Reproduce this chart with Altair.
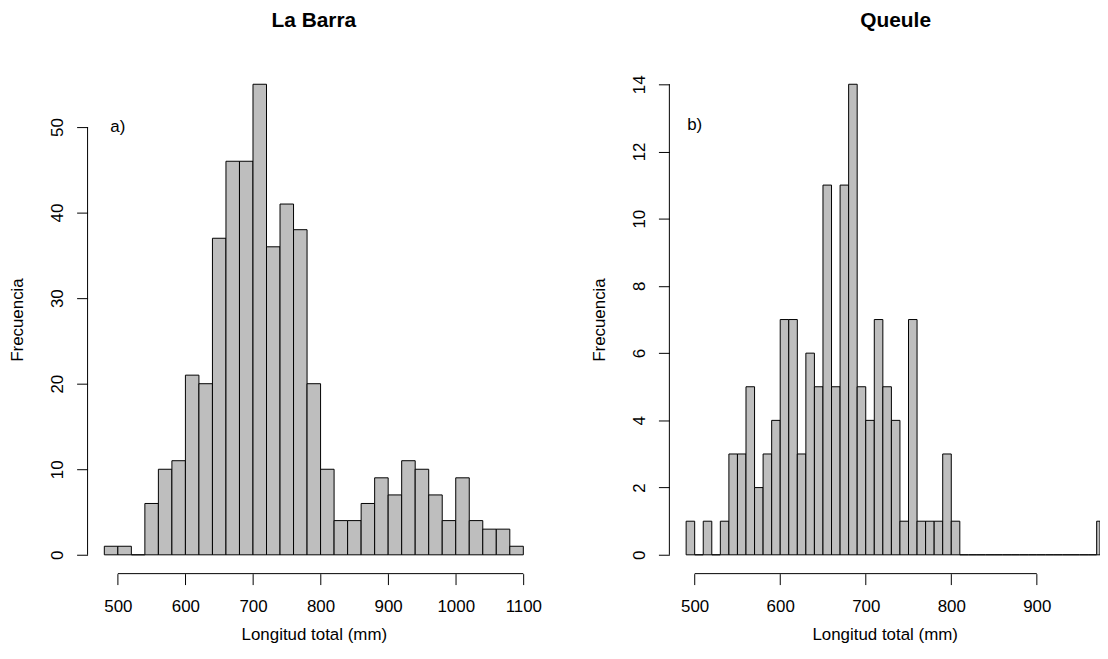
import altair as alt
import pandas as pd

FONT = "Liberation Sans"

# ---- La Barra (a) ----
left_edges = [480, 500, 520, 540, 560, 580, 600, 620, 640, 660, 680, 700, 720, 740,
              760, 780, 800, 820, 840, 860, 880, 900, 920, 940, 960, 980, 1000, 1020,
              1040, 1060, 1080, 1100]
left_counts = [1, 1, 0, 6, 10, 11, 21, 20, 37, 46, 46, 55, 36, 41, 38, 20, 10, 4, 4,
               6, 9, 7, 11, 10, 7, 4, 9, 4, 3, 3, 1]
left_xticks = [500, 600, 700, 800, 900, 1000, 1100]
left_yticks = [0, 10, 20, 30, 40, 50]
left_xdom = [455.2, 1124.8]
left_ydom = [-2.2, 57.2]

# ---- Queule (b) ----
right_edges = [490, 500, 510, 520, 530, 540, 550, 560, 570, 580, 590, 600, 610, 620,
               630, 640, 650, 660, 670, 680, 690, 700, 710, 720, 730, 740, 750, 760,
               770, 780, 790, 800, 810, 820, 830, 840, 850, 860, 870, 880, 890, 900,
               910, 920, 930, 940, 950, 960, 970, 980]
right_counts = [1, 0, 1, 0, 1, 3, 3, 5, 2, 3, 4, 7, 7, 3, 6, 5, 11, 5, 11, 14, 5, 4,
                7, 5, 4, 1, 7, 1, 1, 1, 3, 1, 0, 0, 0, 0, 0, 0, 0, 0, 0, 0, 0, 0, 0,
                0, 0, 0, 1]
right_xticks = [500, 600, 700, 800, 900]
right_yticks = [0, 2, 4, 6, 8, 10, 12, 14]
right_xdom = [470.4, 973.9]
right_ydom = [-0.56, 14.56]

PLOT_H = 511


def panel(edges, counts, xticks, yticks, xdom, ydom, width, title, tag, tag_x, tag_y, title_dx):
    df = pd.DataFrame({"start": edges[:-1], "end": edges[1:], "count": counts})
    xs = alt.Scale(domain=xdom, nice=False, zero=False, padding=0, clamp=True)
    ys = alt.Scale(domain=ydom, nice=False, zero=False, padding=0)
    xaxis = alt.Axis(
        values=xticks, domain=False, grid=False, tickSize=11, format="d",
        labelFontSize=17, labelBaseline="alphabetic", labelPadding=27,
        title="Longitud total (mm)", titleFontSize=17, titleFontWeight="normal",
        titleBaseline="alphabetic", titleY=66)
    yaxis = alt.Axis(
        values=yticks, domain=False, grid=False, tickSize=11,
        labelAngle=270, labelAlign="center", labelBaseline="alphabetic",
        labelPadding=14, labelFontSize=17,
        title="Frecuencia", titleFontSize=17, titleFontWeight="normal",
        titleAngle=270, titleBaseline="alphabetic", titleX=-65)
    bars = alt.Chart(df).mark_bar(
        color="#BEBEBE", stroke="black", strokeWidth=1, clip=True
    ).encode(
        x=alt.X("start:Q", scale=xs, axis=xaxis),
        x2="end:Q",
        y=alt.Y("count:Q", scale=ys, axis=yaxis),
        y2=alt.datum(0),
    )
    xline = alt.Chart(pd.DataFrame({"a": [xticks[0]], "b": [xticks[-1]]})).mark_rule(
        color="black", strokeWidth=1
    ).encode(
        x=alt.X("a:Q", scale=xs, axis=xaxis),
        x2="b:Q",
        y=alt.YDatum(ydom[0], axis=yaxis),
    )
    yline = alt.Chart(pd.DataFrame({"a": [yticks[0]], "b": [yticks[-1]]})).mark_rule(
        color="black", strokeWidth=1
    ).encode(
        y=alt.Y("a:Q", scale=ys, axis=yaxis),
        y2="b:Q",
        x=alt.XDatum(xdom[0], axis=xaxis),
    )
    label = alt.Chart(pd.DataFrame({"x": [tag_x], "y": [tag_y], "t": [tag]})).mark_text(
        font=FONT, fontSize=17, align="center", baseline="middle", color="black"
    ).encode(
        x=alt.X("x:Q", scale=xs, axis=xaxis),
        y=alt.Y("y:Q", scale=ys, axis=yaxis),
        text="t:N",
    )
    return alt.layer(bars, xline, yline, label).properties(
        width=width, height=PLOT_H,
        title=alt.TitleParams(title, font=FONT, fontSize=21, fontWeight="bold",
                              color="black", anchor="middle", baseline="alphabetic",
                              offset=18, dx=title_dx),
    )


left = panel(left_edges, left_counts, left_xticks, left_yticks, left_xdom, left_ydom,
             455, "La Barra", "a)", 500, 50, 0)
right = panel(right_edges, right_counts, right_xticks, right_yticks, right_xdom, right_ydom,
              433, "Queule", "b)", 500, 12.8, 11)

chart = alt.hconcat(left, right, spacing=49).properties(
    padding={"left": 1, "top": 0, "right": 0, "bottom": 0}
).configure_view(stroke=None).configure_axis(
    labelFont=FONT, titleFont=FONT, labelColor="black", titleColor="black",
    tickColor="black", tickWidth=1
)

chart.save("out.html", embed_options={"renderer": "svg", "actions": False})
